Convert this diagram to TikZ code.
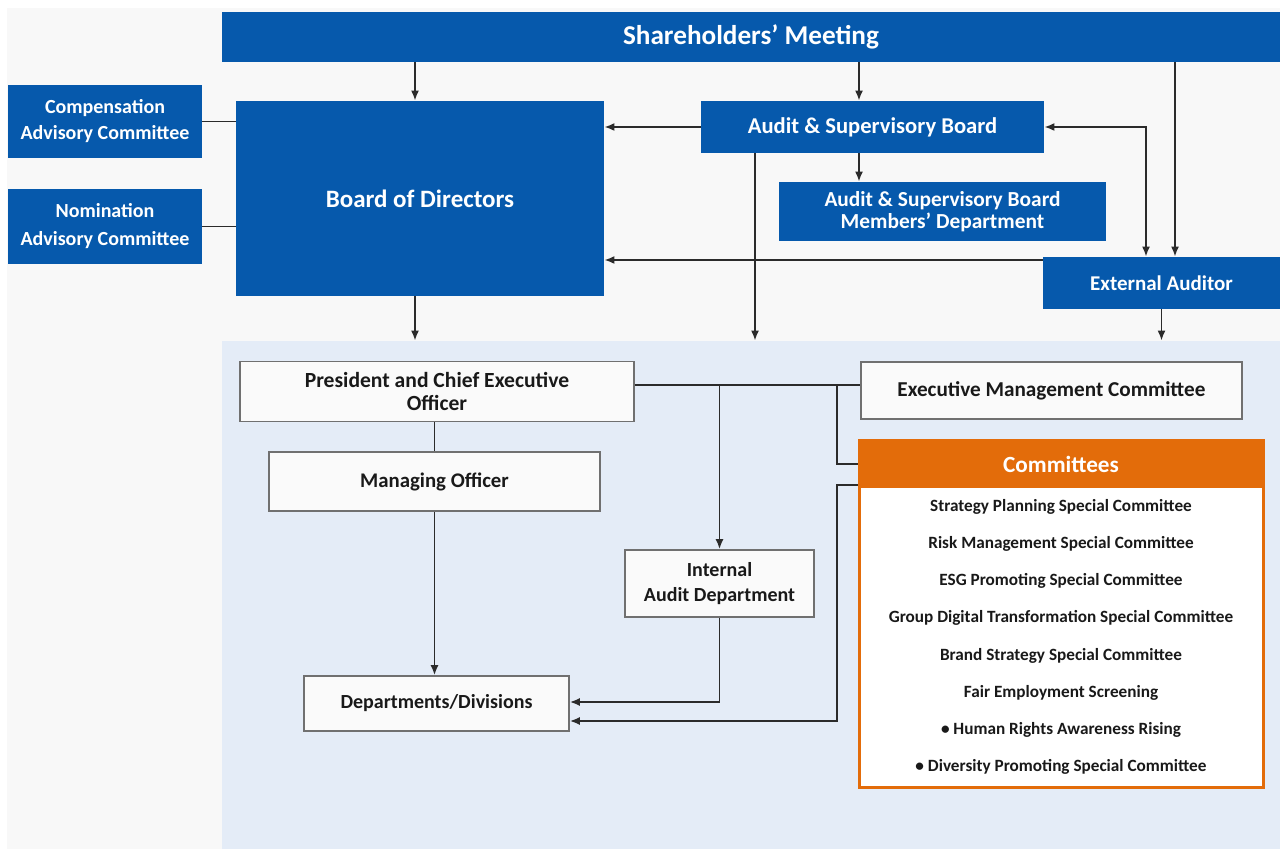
\documentclass[tikz,border=0pt]{standalone}
\usepackage{fontspec}
\setmainfont{Carlito}
\usetikzlibrary{arrows.meta}
\definecolor{boardblue}{HTML}{0659AC}
\definecolor{comorange}{HTML}{E36C0A}
\definecolor{panelgrey}{HTML}{F8F8F8}
\definecolor{mgmtblue}{HTML}{E4ECF7}
\definecolor{linegrey}{HTML}{2B2B2B}
\definecolor{boxedge}{HTML}{707070}
\begin{document}
\begin{tikzpicture}
   [x=0.5pt, y=-0.5pt,
   blue box/.style = {fill=boardblue, text=white, inner sep=0pt, align=center,
                      font=\bfseries\fontsize{10}{13}\selectfont},
   white box/.style = {fill=white!98!black, draw=boxedge, line width=0.8pt,
                       inner sep=0pt, align=center, text=black!90,
                       font=\bfseries\fontsize{10.6}{11.5}\selectfont},
   link/.style = {draw=linegrey, line width=0.9pt},
   arr/.style = {link, -{Latex[length=5pt,width=4pt]}},
   arrs/.style = {link, {Latex[length=5pt,width=4pt]}-{Latex[length=5pt,width=4pt]}}]
   \useasboundingbox (0,0) rectangle (1280,849);
   \fill[panelgrey] (7,8) rectangle (1280,849);
   \node[fill=mgmtblue, minimum width=529pt, minimum height=254pt, inner sep=0pt] (mgmt) at (751,595) {};
   % governance
   \node[blue box, minimum width=529pt, minimum height=25pt,
         font=\bfseries\fontsize{13.6}{14}\selectfont] (sm) at (751,37) {Shareholders' Meeting};
   \node[blue box, minimum width=97pt, minimum height=36.5pt] (cac) at (105,121.5) {Compensation\\Advisory Committee};
   \node[blue box, minimum width=97pt, minimum height=37.5pt,
         font=\bfseries\fontsize{10}{14}\selectfont] (nac) at (105,226.5) {Nomination\\Advisory Committee};
   \node[blue box, minimum width=184pt, minimum height=97.5pt,
         font=\bfseries\fontsize{12.5}{13}\selectfont] (bod) at (420,198.5) {Board of Directors};
   \node[blue box, minimum width=171.5pt, minimum height=26pt,
         font=\bfseries\fontsize{11.3}{13}\selectfont] (asb) at (872.5,127) {Audit \& Supervisory Board};
   \node[blue box, minimum width=163.5pt, minimum height=29.5pt,
         font=\bfseries\fontsize{10.7}{11.2}\selectfont] (asbm) at (942.5,211.5) {Audit \& Supervisory Board\\Members' Department};
   \node[blue box, minimum width=118.5pt, minimum height=26pt,
         font=\bfseries\fontsize{10.5}{13}\selectfont] (ea) at (1161.5,283) {External Auditor};
   % execution
   \node[white box, minimum width=197pt, minimum height=30pt,
         font=\bfseries\fontsize{10.8}{11.6}\selectfont] (ceo) at (437,391.5) {President and Chief Executive\\Officer};
   \node[white box, minimum width=165.5pt, minimum height=29.5pt,
         font=\bfseries\fontsize{10.4}{11.5}\selectfont] (mo) at (434.5,481.5) {Managing Officer};
   \node[white box, minimum width=132.5pt, minimum height=27.5pt,
         font=\bfseries\fontsize{10}{11.5}\selectfont] (dep) at (436.5,703.5) {Departments/Divisions};
   \node[white box, minimum width=94.5pt, minimum height=33.5pt,
         font=\bfseries\fontsize{10}{12.5}\selectfont] (iad) at (719.5,583.5) {Internal\\Audit Department};
   \node[white box, minimum width=190.5pt, minimum height=28.5pt] (emc) at (1051.5,390.5) {Executive Management Committee};
   \node[fill=white, draw=comorange, line width=1.5pt, minimum width=202pt, minimum height=150pt,
         inner sep=0pt, align=center, text=black!90,
         font=\bfseries\fontsize{8.6}{18.6}\selectfont] (comlist) at (1061,637)
        {Strategy Planning Special Committee\\
         Risk Management Special Committee\\
         ESG Promoting Special Committee\\
         Group Digital Transformation Special Committee\\
         Brand Strategy Special Committee\\
         Fair Employment Screening\\
         • Human Rights Awareness Rising\\
         • Diversity Promoting Special Committee};
   \node[fill=comorange, draw=comorange, line width=1.5pt, minimum width=202pt, minimum height=23pt,
         inner sep=0pt, text=white, font=\bfseries\fontsize{11.6}{14}\selectfont] (comhead) at (1061,464) {Committees};
   % upper connectors
   \draw[arr] (sm.south -| 415,0) -- (bod.north -| 415,0);
   \draw[arr] (sm.south -| 859,0) -- (asb.north -| 859,0);
   \draw[arr] (sm.south -| 1175,0) -- (ea.north -| 1175,0);
   \draw[link] (cac.east) -- (cac.east -| bod.west);
   \draw[link] (nac.east) -- (nac.east -| bod.west);
   \draw[arr] (asb.west) -- (asb.west -| bod.east);
   \draw[arr] (asb.south -| 859,0) -- (asbm.north -| 859,0);
   \draw[arrs] (asb.east) -| (ea.north -| 1146,0);
   \draw[arr] (ea.north west |- 0,260) -- (bod.east |- 0,260);
   \draw[arr] (asb.south -| 755,0) -- (mgmt.north -| 755,0);
   \draw[arr] (bod.south -| 415,0) -- (mgmt.north -| 415,0);
   \draw[arr] (ea.south) -- (mgmt.north -| ea.south);
   % lower connectors
   \coordinate (tap) at (837,385);
   \draw[link] (ceo.east |- tap) -- (emc.west |- tap);
   \draw[link] (ceo.south -| mo.north) -- (mo.north);
   \draw[arr] (mo.south) -- (mo.south |- dep.north);
   \draw[arr] (iad.north |- tap) -- (iad.north);
   \draw[arr] (iad.south) |- (dep.east |- 0,702);
   \draw[link] (tap) |- (comhead.west);
   \draw[arr] (comhead.west |- 0,485) -| (837,721) -- (dep.east |- 0,721);
\end{tikzpicture}
\end{document}
